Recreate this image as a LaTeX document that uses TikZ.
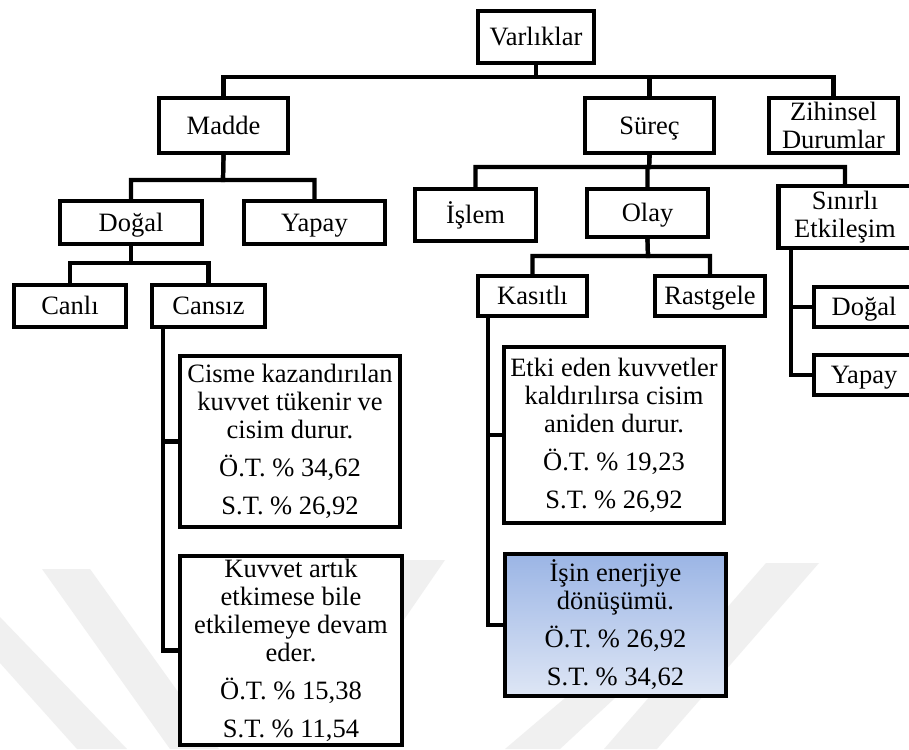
\documentclass[tikz,border=0pt]{standalone}
\usepackage{fontspec}
\setmainfont{Liberation Serif}
\definecolor{shadetop}{RGB}{155,181,229}
\definecolor{shadebottom}{RGB}{222,230,245}
\definecolor{stripegray}{RGB}{240,240,240}
\begin{document}
\begin{tikzpicture}[x=1pt,y=-1pt,
  every node/.style={font=\fontsize{26.5}{28}\selectfont},
  box/.style={draw, line width=4.2pt, fill=white, inner sep=0pt},
  oneline/.style={box, text height=17.5pt, text depth=0pt},
  multi/.style={box, align=center},
  link/.style={line width=4.2pt},
  stripe/.style={fill=stripegray}]

% page frame and clipping
\useasboundingbox (0,0) rectangle (909,749);
\clip (0,0) rectangle (909,749);
\fill[white] (0,0) rectangle (909,749);

% faint background stripes
\fill[stripe] (42,569) -- (90,569) -- (219,749) -- (170,749) -- cycle;
\fill[stripe] (0,617) -- (0,663) -- (77,749) -- (127,749) -- cycle;
\fill[stripe] (766,563) -- (819,563) -- (657,749) -- (604,749) -- cycle;
\fill[stripe] (400,560) -- (445,560) -- (390,640) -- (345,640) -- cycle;
\fill[stripe] (565,698) -- (615,698) -- (560,749) -- (505,749) -- cycle;

% level 0
\node[oneline, minimum width=116pt, minimum height=52pt] (var) at (536,37) {Varlıklar};

% level 1
\node[oneline, minimum width=129pt, minimum height=55pt] (madde) at (223.5,125.5) {Madde};
\node[oneline, minimum width=129pt, minimum height=55pt] (surec) at (649.5,125.5) {Süreç};
\node[multi, minimum width=129pt, minimum height=55pt] (zih) at (833.5,125.5) {Zihinsel\\Durumlar};

% level 2
\node[oneline, minimum width=142pt, minimum height=43pt] (dogal) at (131,222.5) {Doğal};
\node[oneline, minimum width=141pt, minimum height=43pt] (yapay) at (314.5,222.5) {Yapay};
\node[oneline, minimum width=121pt, minimum height=52pt] (islem) at (475.5,215) {İşlem};
\node[oneline, minimum width=121pt, minimum height=48pt] (olay) at (647.5,213) {Olay};
\node[multi, minimum width=133pt, minimum height=62pt] (sinirli) at (845,217) {Sınırlı\\Etkileşim};

% level 3
\node[oneline, minimum width=112pt, minimum height=42pt] (canli) at (70,306) {Canlı};
\node[oneline, minimum width=113pt, minimum height=42pt] (cansiz) at (208.5,306) {Cansız};
\node[oneline, minimum width=109pt, minimum height=40pt] (kasitli) at (532.5,296) {Kasıtlı};
\node[oneline, minimum width=110pt, minimum height=40pt] (rast) at (710,296) {Rastgele};
\node[oneline, minimum width=100pt, minimum height=40pt] (sdogal) at (864,307) {Doğal};
\node[oneline, minimum width=100pt, minimum height=40pt] (syapay) at (864,375) {Yapay};

% answer boxes
\node[multi, minimum width=220pt, minimum height=171pt] (cisme) at (290,441.5)
  {Cisme kazandırılan\\kuvvet tükenir ve\\cisim durur.\\[10pt]Ö.T. \% 34,62\\[10pt]S.T. \% 26,92};
\node[multi, minimum width=222pt, minimum height=189pt] (kuvvet) at (291,650.5)
  {Kuvvet artık\\etkimese bile\\etkilemeye devam\\eder.\\[10pt]Ö.T. \% 15,38\\[10pt]S.T. \% 11,54};
\node[multi, minimum width=220pt, minimum height=176pt] (etki) at (614,435)
  {Etki eden kuvvetler\\kaldırılırsa cisim\\aniden durur.\\[10pt]Ö.T. \% 19,23\\[10pt]S.T. \% 26,92};
\node[multi, top color=shadetop, bottom color=shadebottom, minimum width=221pt, minimum height=142pt] (isin) at (615.5,625)
  {İşin enerjiye\\dönüşümü.\\[10pt]Ö.T. \% 26,92\\[10pt]S.T. \% 34,62};

% bus coordinates
\coordinate (b0) at (536,77);
\coordinate (b1) at (223,180);
\coordinate (b2) at (649,167);
\coordinate (b3) at (648,256);
\coordinate (b4) at (131,263);
\coordinate (t1) at (163,329);
\coordinate (t2) at (488,318);
\coordinate (t3) at (791,250);

% connectors
\draw[link] (var.south) -- (b0) -| (madde.north);
\draw[link] (var.south) -- (b0) -| (surec.north);
\draw[link] (var.south) -- (b0) -| (zih.north);

\draw[link] (madde.south) -- (b1) -| (dogal.north);
\draw[link] (madde.south) -- (b1) -| (yapay.north);

\draw[link] (surec.south) -- (b2) -| (islem.north);
\draw[link] (surec.south) -- (b2) -| (olay.north);
\draw[link] (surec.south) -- (b2) -| (sinirli.north);

\draw[link] (olay.south) -- (b3) -| (kasitli.north);
\draw[link] (olay.south) -- (b3) -| (rast.north);

\draw[link] (dogal.south) -- (b4) -| (canli.north);
\draw[link] (dogal.south) -- (b4) -| (cansiz.north);

\draw[link] (t1) |- (cisme.west);
\draw[link] (t1) |- (kuvvet.west);
\draw[link] (t2) |- (etki.west);
\draw[link] (t2) |- (isin.west);
\draw[link] (t3) |- (sdogal.west);
\draw[link] (t3) |- (syapay.west);

\end{tikzpicture}
\end{document}
